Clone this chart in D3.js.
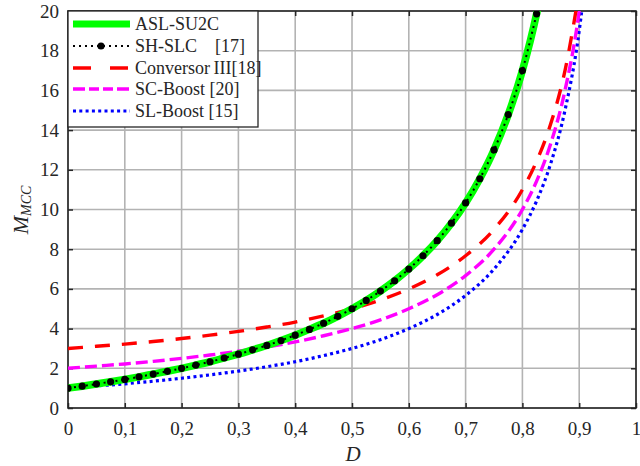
<!DOCTYPE html>
<html><head><meta charset="utf-8">
<script src="https://cdn.jsdelivr.net/npm/d3@7"></script>
<style>body{margin:0;background:#fff;}svg{display:block;}text{font-family:"Liberation Serif",serif;fill:#262626;}</style>
</head><body>
<svg id="c" width="640" height="466"></svg>
<script>
// Duty cycle samples (step 0.025) for ASL-SU2C and SH-SLC
const dFine = [0,0.025,0.05,0.075,0.1,0.125,0.15,0.175,0.2,0.225,0.25,0.275,0.3,0.325,0.35,0.375,0.4,0.425,0.45,0.475,0.5,0.525,0.55,0.575,0.6,0.625,0.65,0.675,0.7,0.725,0.75,0.775,0.8,0.825,0.85];
const aslSu2c = [1,1.10,1.21,1.32,1.44,1.57,1.71,1.85,2.0,2.16,2.33,2.52,2.71,2.93,3.15,3.4,3.67,3.96,4.27,4.62,5.0,5.42,5.89,6.41,7.0,7.67,8.43,9.31,10.33,11.55,13.0,14.78,17.0,19.86,23.67];
const dSh = [0,0.025,0.05,0.075,0.1,0.125,0.15,0.175,0.2,0.225,0.25,0.275,0.3,0.325,0.35,0.375,0.4,0.425,0.45,0.475,0.5,0.525,0.55,0.575,0.6,0.625,0.65,0.675,0.7,0.725,0.75,0.775,0.8,0.825];
const shSlc = [1,1.10,1.21,1.32,1.44,1.57,1.71,1.85,2.0,2.16,2.33,2.52,2.71,2.93,3.15,3.4,3.67,3.96,4.27,4.62,5.0,5.42,5.89,6.41,7.0,7.67,8.43,9.31,10.33,11.55,13.0,14.78,17.0,19.86];
// Duty cycle samples for the other converters
const dCoarse = [0,0.05,0.1,0.15,0.2,0.25,0.3,0.35,0.4,0.45,0.5,0.55,0.6,0.65,0.7,0.75,0.8,0.825,0.85,0.875,0.9,0.925];
const conversorIII = [3,3.11,3.22,3.35,3.5,3.67,3.86,4.08,4.33,4.64,5.0,5.44,6.0,6.71,7.67,9.0,11.0,12.43,14.33,17.0,21.0,25.67];
const scBoost = [2,2.11,2.22,2.35,2.5,2.67,2.86,3.08,3.33,3.64,4.0,4.44,5.0,5.71,6.67,8.0,10.0,11.43,13.33,16.0,20.0,26.67];
const slBoost = [1,1.11,1.22,1.35,1.5,1.67,1.86,2.08,2.33,2.64,3.0,3.44,4.0,4.71,5.67,7.0,9.0,10.43,12.33,15.0,19.0,25.67];
const xTicks = [0,0.1,0.2,0.3,0.4,0.5,0.6,0.7,0.8,0.9,1];
const xTickLabels = ["0","0,1","0,2","0,3","0,4","0,5","0,6","0,7","0,8","0,9","1"];
const yTicks = [0,2,4,6,8,10,12,14,16,18,20];
const legendNames = ["ASL-SU2C","SH-SLC\u2002\u2002[17]","Conversor\u2009III[18]","SC-Boost [20]","SL-Boost [15]"];

const L=68,R=636,T=11,B=408;
const svg=d3.select("#c");
const x=d3.scaleLinear().domain([0,1]).range([L,R]);
const y=d3.scaleLinear().domain([0,20]).range([B,T]);

// grid
const g=svg.append("g");
g.selectAll(".gx").data(xTicks).join("line").attr("x1",d=>x(d)).attr("x2",d=>x(d)).attr("y1",T).attr("y2",B).attr("stroke","#b3b3b3").attr("stroke-width",1.6);
g.selectAll(".gy").data(yTicks).join("line").attr("y1",d=>y(d)).attr("y2",d=>y(d)).attr("x1",L).attr("x2",R).attr("stroke","#b3b3b3").attr("stroke-width",1.6);

// axes
const ax=d3.axisBottom(x).tickValues(xTicks).tickFormat((d,i)=>xTickLabels[i]).tickSizeInner(-5).tickSizeOuter(0).tickPadding(14);
const ay=d3.axisLeft(y).tickValues(yTicks).tickSizeInner(-5).tickSizeOuter(0).tickPadding(9);
const gx=svg.append("g").attr("transform",`translate(0,${B})`).call(ax);
const gy=svg.append("g").attr("transform",`translate(${L},0)`).call(ay);
const gx2=svg.append("g").attr("transform",`translate(0,${T})`).call(d3.axisTop(x).tickValues(xTicks).tickFormat("").tickSizeInner(-5).tickSizeOuter(0));
const gy2=svg.append("g").attr("transform",`translate(${R},0)`).call(d3.axisRight(y).tickValues(yTicks).tickFormat("").tickSizeInner(-5).tickSizeOuter(0));
[gx,gy,gx2,gy2].forEach(a=>{a.select(".domain").remove();a.selectAll("line").attr("stroke","#262626").attr("stroke-width",1.5);a.selectAll("text").style("font-family","Liberation Serif").style("font-size","19px").attr("fill","#3a3a3a");});
svg.append("rect").attr("x",L).attr("y",T).attr("width",R-L).attr("height",B-T).attr("fill","none").attr("stroke","#262626").attr("stroke-width",1.6);

// clip
svg.append("clipPath").attr("id","clip").append("rect").attr("x",L).attr("y",T).attr("width",R-L).attr("height",B-T);
const plot=svg.append("g").attr("clip-path","url(#clip)");
const line=(xs)=>d3.line().x((d,i)=>x(xs[i])).y(d=>y(d)).curve(d3.curveMonotoneX);

plot.append("path").datum(slBoost).attr("d",line(dCoarse)).attr("fill","none").attr("stroke","#0000ff").attr("stroke-width",3.2).attr("stroke-dasharray","3,3.3");
plot.append("path").datum(scBoost).attr("d",line(dCoarse)).attr("fill","none").attr("stroke","#ff00ff").attr("stroke-width",3.4).attr("stroke-dasharray","12,5");
plot.append("path").datum(conversorIII).attr("d",line(dCoarse)).attr("fill","none").attr("stroke","#ff0000").attr("stroke-width",3.4).attr("stroke-dasharray","15,12");
plot.append("path").datum(aslSu2c).attr("d",line(dFine)).attr("fill","none").attr("stroke","#00ff00").attr("stroke-width",7.5);
plot.append("path").datum(shSlc).attr("d",line(dSh)).attr("fill","none").attr("stroke","#000").attr("stroke-width",2).attr("stroke-dasharray","2,4");
plot.selectAll(".mk").data(shSlc).join("circle").attr("cx",(d,i)=>x(dSh[i])).attr("cy",d=>y(d)).attr("r",3.6).attr("fill","#000");

// labels
svg.append("text").attr("x",353).attr("y",461).attr("text-anchor","middle").style("font-style","italic").style("font-size","21px").text("D");
const yl=svg.append("text").attr("transform","translate(28,210) rotate(-90)").attr("text-anchor","middle").style("font-style","italic");
yl.append("tspan").style("font-size","22px").text("M");
yl.append("tspan").style("font-size","14px").attr("dy",3).text("MCC");

// legend
const lg=svg.append("g");
lg.append("rect").attr("x",L).attr("y",T).attr("width",190).attr("height",116).attr("fill","#fff").attr("stroke","#262626").attr("stroke-width",1.3);
const ly=[24,46,68,89,111];
const styles=[{c:"#00ff00",w:7,da:null},{c:"#000",w:2,da:"2,4"},{c:"#ff0000",w:3.4,da:"18,19"},{c:"#ff00ff",w:3.4,da:"12,4,10,4,10,4"},{c:"#0000ff",w:3.2,da:"3,3.3"}];
legendNames.forEach((n,i)=>{
  const s=styles[i];
  const ln=lg.append("line").attr("x1",73).attr("x2",130).attr("y1",ly[i]).attr("y2",ly[i]).attr("stroke",s.c).attr("stroke-width",s.w);
  if(s.da) ln.attr("stroke-dasharray",s.da);
  if(i===1) lg.append("circle").attr("cx",101).attr("cy",ly[i]).attr("r",3.6).attr("fill","#000");
  lg.append("text").attr("x",135).attr("y",ly[i]+6).style("font-size","18px").text(n);
});
</script>
</body></html>
